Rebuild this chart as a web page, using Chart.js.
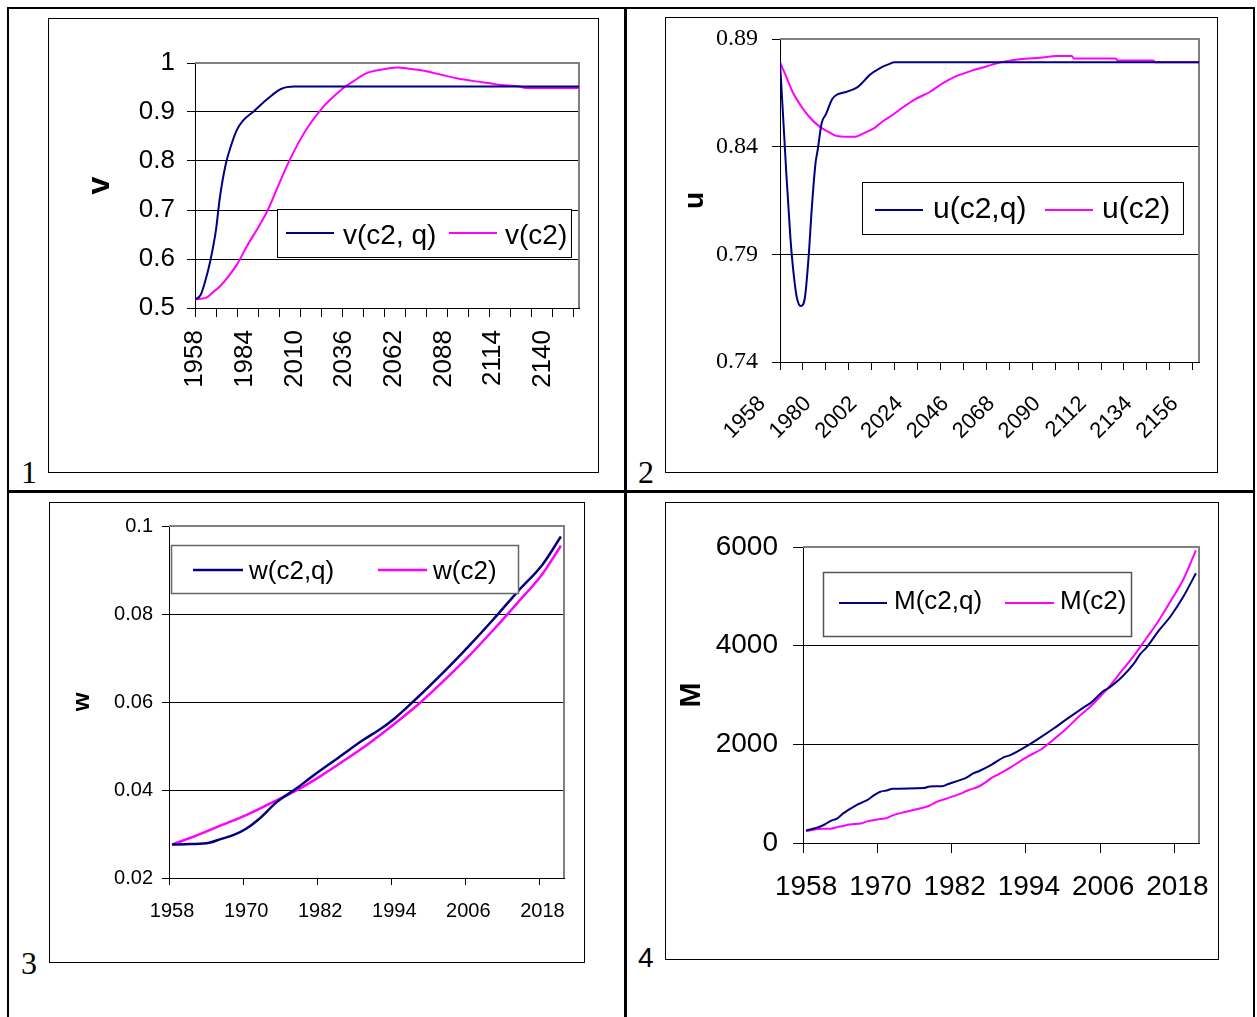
<!DOCTYPE html>
<html><head><meta charset="utf-8">
<script src="https://cdn.jsdelivr.net/npm/chart.js@4.4.0/dist/chart.umd.min.js"></script>
<style>
html,body{margin:0;padding:0;background:#fff;}
body{width:1257px;height:1017px;position:relative;overflow:hidden;}
.ln{position:absolute;background:#000;}
.box{position:absolute;border:1px solid #000;box-sizing:border-box;}
canvas{position:absolute;}
.num{position:absolute;color:#000;white-space:nowrap;}
.serif{font-family:"Liberation Serif","Times New Roman",serif;font-size:32px;line-height:32px;}
.sans{font-family:"Liberation Sans",Arial,sans-serif;font-size:28px;line-height:28px;}
</style></head><body>
<div class="ln" style="left:7px;top:7px;width:1248px;height:2px"></div>
<div class="ln" style="left:7px;top:7px;width:2px;height:1010px"></div>
<div class="ln" style="left:624px;top:7px;width:3px;height:1010px"></div>
<div class="ln" style="left:7px;top:490px;width:1248px;height:3px"></div>
<div class="ln" style="left:1253px;top:7px;width:2px;height:1010px"></div>

<div class="box" style="left:48px;top:18px;width:551px;height:455px"></div>
<div class="box" style="left:665px;top:17px;width:553px;height:456px"></div>
<div class="box" style="left:49px;top:502px;width:536px;height:461px"></div>
<div class="box" style="left:665px;top:502px;width:554px;height:458px"></div>

<canvas id="c1" width="549" height="453" style="left:49px;top:19px"></canvas>
<canvas id="c2" width="551" height="454" style="left:666px;top:18px"></canvas>
<canvas id="c3" width="534" height="459" style="left:50px;top:503px"></canvas>
<canvas id="c4" width="552" height="456" style="left:666px;top:503px"></canvas>

<div class="num serif" style="left:21px;top:456px">1</div>
<div class="num serif" style="left:638px;top:456px">2</div>
<div class="num serif" style="left:21px;top:947px">3</div>
<div class="num sans" style="left:638px;top:944px">4</div>

<script>
// ---------- Panel 1: v ----------
const v_q_years = [1958,1961,1963,1966,1969,1971,1974,1977,1980,1983,1989,1996,2003,2010,2159];
const v_q_vals  = [0.517,0.527,0.550,0.596,0.660,0.725,0.792,0.833,0.864,0.882,0.902,0.927,0.947,0.952,0.952];
const v_years = [1958,1961,1964,1968,1971,1975,1980,1985,1991,1996,2001,2006,2012,2017,2025,2031,2036,2041,2047,2052,2059,2064,2069,2078,2087,2095,2104,2113,2118,2128,2131,2159];
const v_vals  = [0.517,0.519,0.521,0.534,0.544,0.562,0.589,0.625,0.664,0.699,0.744,0.789,0.836,0.869,0.910,0.933,0.950,0.963,0.978,0.984,0.989,0.991,0.989,0.984,0.976,0.969,0.963,0.958,0.955,0.952,0.949,0.949];
const p1TickMarks = [1958,1969,1980,1991,2002,2013,2024,2035,2046,2057,2068,2079,2090,2101,2112,2123,2134,2145,2156];
const p1LabelYears = [1958,1984,2010,2036,2062,2088,2114,2140];
const p1YTicks = [0.5,0.6,0.7,0.8,0.9,1];
const p1YLabels = ['0.5','0.6','0.7','0.8','0.9','1'];

// ---------- Panel 2: u ----------
const u_q_years = [1958,1960,1961,1963,1964,1966,1968,1970,1972,1973,1975,1976,1978,1980,1983,1985,1990,1995,1998,2001,2006,2010,2013,2159];
const u_q_vals  = [0.8792,0.8454,0.828,0.7975,0.786,0.7703,0.766,0.7703,0.7925,0.808,0.832,0.838,0.851,0.855,0.862,0.864,0.8655,0.8675,0.8702,0.8733,0.8765,0.8782,0.8792,0.8792];
const u_years = [1958,1961,1964,1968,1972,1977,1981,1985,1990,1994,1998,2003,2007,2012,2017,2023,2030,2036,2042,2050,2057,2062,2066,2073,2085,2090,2098,2099,2119,2120,2137,2138,2159];
const u_vals  = [0.8792,0.8725,0.8655,0.859,0.8539,0.8493,0.847,0.845,0.8446,0.8446,0.8462,0.8485,0.8516,0.8547,0.8583,0.8621,0.8655,0.8694,0.8725,0.8753,0.8772,0.8787,0.8796,0.8806,0.8815,0.8821,0.8821,0.8809,0.8809,0.880,0.880,0.8792,0.8792];
const p2TickMarks = [1958,1969,1980,1991,2002,2013,2024,2035,2046,2057,2068,2079,2090,2101,2112,2123,2134,2145,2156];
const p2LabelYears = [1958,1980,2002,2024,2046,2068,2090,2112,2134,2156];
const p2YTicks = [0.74,0.79,0.84,0.89];
const p2YLabels = ['0.74','0.79','0.84','0.89'];

// ---------- Panel 3: w ----------
const w_q_years = [1958,1961,1964,1966,1968,1970,1972,1975,1978,1981,1985,1989,1992,1994,1997,2002,2006,2010,2014,2018,2021];
const w_q_vals  = [0.0276,0.0277,0.0280,0.0289,0.0298,0.0312,0.0333,0.0373,0.0402,0.0434,0.0474,0.0514,0.0541,0.0562,0.0600,0.0668,0.0726,0.0787,0.0851,0.0912,0.0976];
const w_years = [1958,1962,1966,1970,1974,1978,1982,1986,1990,1994,1998,2002,2006,2010,2014,2018,2021];
const w_vals  = [0.0276,0.0297,0.0320,0.0343,0.0370,0.0398,0.0431,0.0468,0.0507,0.0550,0.0596,0.0648,0.0703,0.0763,0.0826,0.0891,0.0955];
const p34TickMarks = [1957.5,1969.5,1981.5,1993.5,2005.5,2017.5];
const p34LabelYears = [1958,1970,1982,1994,2006,2018];
const p3YTicks = [0.02,0.04,0.06,0.08,0.1];
const p3YLabels = ['0.02','0.04','0.06','0.08','0.1'];

// ---------- Panel 4: M ----------
const m_q_years = [1958,1960,1961,1962,1963,1964,1966,1967,1968,1969,1970,1971,1972,1977,1978,1980,1981,1983,1984,1985,1986,1988,1990,1991,1994,1996,1998,2000,2003,2004,2006,2007,2009,2011,2012,2013,2015,2017,2019,2021];
const m_q_vals  = [253,320,375,450,495,600,760,820,880,970,1040,1065,1100,1113,1147,1150,1195,1280,1330,1410,1460,1590,1740,1780,1990,2150,2320,2500,2760,2840,3075,3150,3360,3640,3830,3960,4305,4612,5000,5466];
const m_years = [1958,1959,1960,1962,1963,1964,1965,1967,1968,1969,1970,1971,1972,1974,1976,1977,1978,1979,1980,1981,1983,1984,1986,1987,1988,1989,1991,1994,1996,1998,2000,2002,2004,2005,2007,2009,2011,2013,2015,2017,2019,2021];
const m_vals  = [239,265,285,290,321,345,375,400,444,464,485,505,560,628,690,720,760,830,874,915,1000,1060,1150,1230,1320,1385,1530,1765,1900,2100,2310,2555,2770,2900,3170,3490,3800,4150,4510,4920,5350,5931];
const p4YTicks = [0,2000,4000,6000];
const p4YLabels = ['0','2000','4000','6000'];

const NAVY = '#000080', MAGENTA = '#FF00FF';
const SANS = '"Liberation Sans", Arial, sans-serif';
const SERIF = '"Liberation Serif", "Times New Roman", serif';
Chart.defaults.font.family = SANS;

const frame = {
  id: 'frame',
  beforeDatasetsDraw(chart, args, o) {
    const {ctx, chartArea: a} = chart;
    ctx.save();
    ctx.strokeStyle = o.color; ctx.lineWidth = o.width;
    ctx.beginPath(); ctx.moveTo(a.left, a.top); ctx.lineTo(a.right, a.top); ctx.lineTo(a.right, a.bottom); ctx.stroke();
    ctx.restore();
  }
};
const boxLegend = {
  id: 'boxLegend',
  afterDatasetsDraw(chart, args, o) {
    const ctx = chart.ctx;
    ctx.save();
    ctx.fillStyle = '#fff'; ctx.fillRect(o.x, o.y, o.w, o.h);
    ctx.strokeStyle = o.border; ctx.lineWidth = o.borderWidth;
    ctx.strokeRect(o.x + 0.5, o.y + 0.5, o.w, o.h);
    ctx.font = o.font; ctx.textBaseline = 'alphabetic'; ctx.textAlign = 'left';
    chart.data.datasets.forEach((ds, i) => {
      const it = o.items[i];
      ctx.strokeStyle = ds.borderColor; ctx.lineWidth = o.lineWidth;
      ctx.beginPath(); ctx.moveTo(it.x0, o.ly); ctx.lineTo(it.x1, o.ly); ctx.stroke();
      ctx.fillStyle = '#000';
      ctx.fillText(ds.label, it.tx, o.base);
    });
    ctx.restore();
  }
};

function makeChart(id, o) {
  const marks = new Set(o.xMarks);
  const labs = new Set(o.xLabelYears);
  const allX = Array.from(new Set([...o.xMarks, ...o.xLabelYears])).sort((a, b) => a - b);
  return new Chart(document.getElementById(id), {
    type: 'line',
    data: {
      datasets: o.series.map(s => ({
        label: s.label,
        data: s.x.map((x, i) => ({x: x, y: s.y[i]})),
        borderColor: s.color, backgroundColor: s.color,
        borderWidth: o.lw, pointRadius: 0, fill: false,
        cubicInterpolationMode: 'monotone'
      }))
    },
    options: {
      responsive: false, animation: false, events: [],
      layout: {padding: {top: o.padTop, right: o.padRight, left: 0, bottom: 0}},
      plugins: {
        legend: {display: false}, tooltip: {enabled: false},
        frame: {color: '#808080', width: 2},
        boxLegend: o.legend
      },
      scales: {
        x: {
          type: 'linear', min: o.xMin, max: o.xMax,
          afterBuildTicks: s => { s.ticks = allX.map(v => ({value: v})); },
          afterFit: s => { s.height = o.xH; s.paddingLeft = 0; s.paddingRight = 0; },
          grid: {drawOnChartArea: false, drawTicks: true, tickLength: o.xTL, tickWidth: 1,
                 tickColor: c => (c.tick && marks.has(c.tick.value)) ? '#000' : 'rgba(0,0,0,0)'},
          border: {display: true, color: '#000', width: 1},
          ticks: {autoSkip: false, maxRotation: o.xRot, minRotation: o.xRot, padding: o.xPad,
                  labelOffset: o.xLabelOffset || 0,
                  color: '#000', font: o.xFont,
                  callback: v => labs.has(v) ? String(v) : ''}
        },
        y: {
          type: 'linear', min: o.yMin, max: o.yMax,
          afterBuildTicks: s => { s.ticks = o.yTicks.map(v => ({value: v})); },
          afterFit: s => { s.width = o.yW; s.paddingTop = 0; s.paddingBottom = 0; },
          grid: {color: '#000', lineWidth: 1, drawTicks: true, tickLength: o.yTL, tickColor: '#000'},
          border: {display: true, color: '#000', width: 1},
          ticks: {padding: o.yPad, color: '#000', font: o.yFont,
                  callback: (v, i) => o.yLabels[i]},
          title: {display: true, text: o.title, color: '#000', font: o.titleFont,
                  padding: {top: o.titlePad, bottom: 0}}
        }
      }
    },
    plugins: [frame, boxLegend]
  });
}

makeChart('c1', {
  series: [
    {label: 'v(c2, q)', x: v_q_years, y: v_q_vals, color: NAVY},
    {label: 'v(c2)', x: v_years, y: v_vals, color: MAGENTA}
  ],
  lw: 2, padTop: 44, padRight: 19, yW: 146, xH: 164,
  xMin: 1958, xMax: 2159, xMarks: p1TickMarks, xLabelYears: p1LabelYears,
  xRot: 90, xTL: 9, xPad: 13, xFont: {family: SANS, size: 26},
  yMin: 0.5, yMax: 1, yTicks: p1YTicks, yLabels: p1YLabels,
  yTL: 8, yPad: 12, yFont: {family: SANS, size: 26},
  title: 'v', titleFont: {family: SANS, size: 32, weight: 'bold'}, titlePad: 32,
  legend: {x: 228, y: 190, w: 294, h: 48, border: '#000', borderWidth: 1, lineWidth: 2,
           font: '28px ' + SANS, ly: 214, base: 225,
           items: [{x0: 237, x1: 285, tx: 294}, {x0: 400, x1: 448, tx: 456}]}
});

makeChart('c2', {
  series: [
    {label: 'u(c2,q)', x: u_q_years, y: u_q_vals, color: NAVY},
    {label: 'u(c2)', x: u_years, y: u_vals, color: MAGENTA}
  ],
  lw: 2, padTop: 21, padRight: 18, yW: 114, xH: 110,
  xMin: 1958, xMax: 2159, xMarks: p2TickMarks, xLabelYears: p2LabelYears,
  xRot: 45, xTL: 8, xPad: 21, xLabelOffset: -18, xFont: {family: SANS, size: 22},
  yMin: 0.74, yMax: 0.89, yTicks: p2YTicks, yLabels: p2YLabels,
  yTL: 8, yPad: 14, yFont: {family: SERIF, size: 24},
  title: 'u', titleFont: {family: SANS, size: 28, weight: 'bold'}, titlePad: 12,
  legend: {x: 196, y: 164, w: 321, h: 52, border: '#000', borderWidth: 1, lineWidth: 2,
           font: '30px ' + SANS, ly: 192, base: 200,
           items: [{x0: 209, x1: 257, tx: 267}, {x0: 379, x1: 427, tx: 436}]}
});

makeChart('c3', {
  series: [
    {label: 'w(c2,q)', x: w_q_years, y: w_q_vals, color: NAVY},
    {label: 'w(c2)', x: w_years, y: w_vals, color: MAGENTA}
  ],
  lw: 2.5, padTop: 23, padRight: 20, yW: 119, xH: 84,
  xMin: 1957.5, xMax: 2021.5, xMarks: p34TickMarks, xLabelYears: p34LabelYears,
  xRot: 0, xTL: 7, xPad: 14, xFont: {family: SANS, size: 20},
  yMin: 0.02, yMax: 0.1, yTicks: p3YTicks, yLabels: p3YLabels,
  yTL: 7, yPad: 9, yFont: {family: SANS, size: 20},
  title: 'w', titleFont: {family: SANS, size: 24, weight: 'bold'}, titlePad: 18,
  legend: {x: 121, y: 42, w: 347, h: 48, border: '#666', borderWidth: 1.5, lineWidth: 2.5,
           font: '26px ' + SANS, ly: 67, base: 76,
           items: [{x0: 143, x1: 193, tx: 199}, {x0: 328, x1: 377, tx: 383}]}
});

makeChart('c4', {
  series: [
    {label: 'M(c2,q)', x: m_q_years, y: m_q_vals, color: NAVY},
    {label: 'M(c2)', x: m_years, y: m_vals, color: MAGENTA}
  ],
  lw: 2, padTop: 44, padRight: 19, yW: 137, xH: 116,
  xMin: 1957.5, xMax: 2021.5, xMarks: p34TickMarks, xLabelYears: p34LabelYears,
  xRot: 0, xTL: 10, xPad: 17, xFont: {family: SANS, size: 28},
  yMin: 0, yMax: 6000, yTicks: p4YTicks, yLabels: p4YLabels,
  yTL: 10, yPad: 15, yFont: {family: SANS, size: 28},
  title: 'M', titleFont: {family: SANS, size: 30, weight: 'bold'}, titlePad: 7.5,
  legend: {x: 157, y: 69, w: 308, h: 64, border: '#555', borderWidth: 1.5, lineWidth: 2,
           font: '26px ' + SANS, ly: 100, base: 106,
           items: [{x0: 173, x1: 221, tx: 228}, {x0: 339, x1: 388, tx: 394}]}
});
</script>
</body></html>
